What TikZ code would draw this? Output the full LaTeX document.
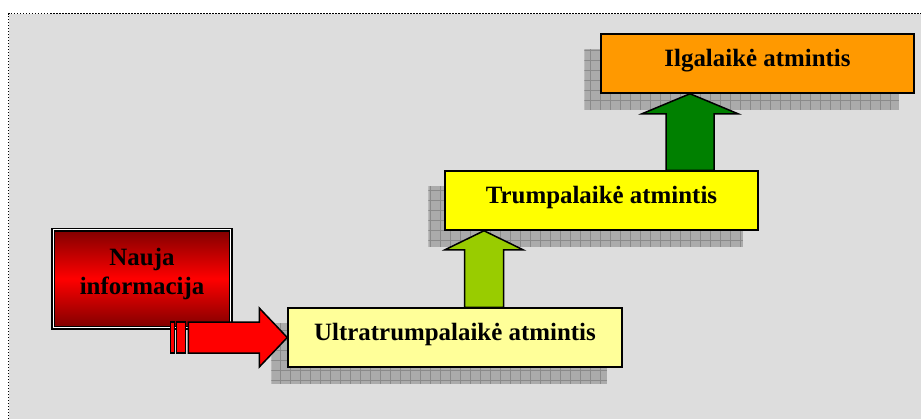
\documentclass[tikz,border=0pt]{standalone}
\usepackage{fontspec}
\setmainfont{Liberation Serif}
\usetikzlibrary{calc,backgrounds}

\definecolor{bggray}{HTML}{DDDDDD}
\definecolor{shadowgray}{HTML}{ABABAB}
\definecolor{gridgray}{HTML}{8A8A8A}
\definecolor{paleyellow}{HTML}{FFFF99}
\definecolor{brightyellow}{HTML}{FFFF00}
\definecolor{orangebox}{HTML}{FF9900}
\definecolor{darkgreen}{HTML}{008000}
\definecolor{lightgreen}{HTML}{99CC00}
\definecolor{darkred}{HTML}{800000}

\tikzset{
	memory/.style={draw=black, line width=1.5bp, minimum width=313bp, minimum height=59bp,
		inner sep=0pt, text height=17bp, text depth=11bp,
		font=\bfseries\fontsize{25}{30}\selectfont},
	newinfo/.style={draw=black, line width=1.5bp, double=white, double distance=1bp,
		top color=darkred, bottom color=darkred, middle color=red,
		minimum width=177.5bp, minimum height=98bp, inner sep=0pt},
	infotext/.style={inner sep=0pt, align=center, yshift=4.5bp,
		font=\bfseries\fontsize{25}{30}\selectfont},
	blockarrow/.style={draw=black, line width=1.5bp, line join=miter},
	dottedframe/.style={black, line width=1.8bp, dash pattern=on 1.5bp off 1.5bp}
}

% gray shadow behind a box
\newcommand{\boxshadow}[1]{
	\begin{scope}
		\clip ($(#1.south west)+(-16,16)$) rectangle ($(#1.north east)+(-16,16)$);
		\fill[shadowgray] ($(#1.south west)+(-16,16)$) rectangle ($(#1.north east)+(-16,16)$);
		\draw[gridgray, line width=0.8bp, step=10bp] ($(#1.south west)+(-16,16)$) grid ($(#1.north east)+(-16,16)$);
	\end{scope}
}

\begin{document}
\begin{tikzpicture}[x=1bp, y=-1bp]
	\useasboundingbox (0,0) rectangle (921,419);

	\node[newinfo, label={[infotext]center:Nauja\\informacija}] (nauja) at (142,278.5) {};
	\node[memory, fill=paleyellow, minimum width=334bp] (ultra) at (455,337.5) {Ultratrumpalaikė atmintis};
	\node[memory, fill=brightyellow] (trumpa) at (601.5,200.5) {Trumpalaikė atmintis};
	\node[memory, fill=orangebox] (ilga) at (757.5,63.5) {Ilgalaikė atmintis};

	\begin{pgfonlayer}{background}
		\fill[bggray] (8.5,13.5) rectangle (921,419);
		\draw[dottedframe] (8.5,419) -- (8.5,13.5) -- (921,13.5);
		\boxshadow{ultra}
		\boxshadow{trumpa}
		\boxshadow{ilga}
	\end{pgfonlayer}

	% red arrow
	\coordinate (rtip) at (ultra.west);
	\draw[blockarrow, fill=red] (rtip) -- ++(-28,-29.5) -- ++(0,14) -- ++(-71,0) -- ++(0,31)
		-- ++(71,0) -- ++(0,14) -- cycle;
	\draw[blockarrow, fill=red] ($(rtip)+(-117,-15.5)$) rectangle ++(4,31);
	\draw[blockarrow, fill=red] ($(rtip)+(-111,-15.5)$) rectangle ++(9,31);

	% light green arrow
	\coordinate (ltip) at (484,0 |- trumpa.south);
	\coordinate (lbase) at (484,0 |- ultra.north);
	\draw[blockarrow, fill=lightgreen] (ltip) -- ++(39,19) -- ++(-19.5,0) -- ($(lbase)+(19.5,0)$)
		-- ($(lbase)+(-19.5,0)$) -- ($(ltip)+(-19.5,19)$) -- ++(-19.5,0) -- cycle;

	% green arrow
	\coordinate (gtip) at (690,0 |- ilga.south);
	\coordinate (gbase) at (690,0 |- trumpa.north);
	\draw[blockarrow, fill=darkgreen] (gtip) -- ++(48,20) -- ++(-24,0) -- ($(gbase)+(24,0)$)
		-- ($(gbase)+(-24,0)$) -- ($(gtip)+(-24,20)$) -- ++(-24,0) -- cycle;
\end{tikzpicture}
\end{document}
